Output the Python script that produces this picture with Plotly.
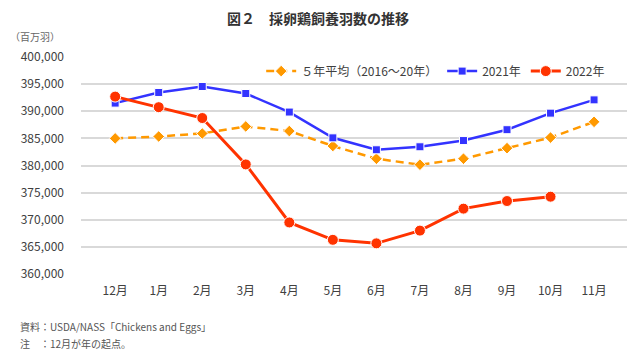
import plotly.graph_objects as go

months = ["12月", "1月", "2月", "3月", "4月", "5月", "6月", "7月", "8月", "9月", "10月", "11月"]
avg_5yr = [385000, 385350, 385900, 387200, 386350, 383600, 381250, 380150, 381250, 383200, 385150, 388050]
y2021 = [391500, 393460, 394560, 393270, 389850, 385100, 382900, 383450, 384600, 386600, 389650, 392100]
y2022 = [392700, 390750, 388750, 380200, 369500, 366300, 365650, 368000, 372050, 373450, 374250]

FONT = "Noto Sans CJK JP"
TXT = "#404040"

fig = go.Figure()
fig.add_trace(go.Scatter(
    x=months, y=avg_5yr, name="５年平均（2016～20年）", mode="lines+markers",
    line=dict(color="#FF9900", width=2.5, dash="8px,5px"),
    marker=dict(symbol="diamond", size=9, color="#FF9900", line=dict(color="white", width=1)),
))
fig.add_trace(go.Scatter(
    x=months, y=y2021, name="2021年", mode="lines+markers",
    line=dict(color="#3333FF", width=2.5),
    marker=dict(symbol="square", size=8, color="#3333FF", line=dict(color="white", width=1)),
))
fig.add_trace(go.Scatter(
    x=months[:len(y2022)], y=y2022, name="2022年", mode="lines+markers",
    line=dict(color="#FF3300", width=3),
    marker=dict(symbol="circle", size=11, color="#FF3300", line=dict(color="white", width=1)),
))

fig.update_layout(
    width=640, height=354,
    margin=dict(l=81, r=13, t=57, b=80),
    paper_bgcolor="white", plot_bgcolor="white",
    font=dict(family=FONT, size=12, color=TXT),
    showlegend=True,
    legend=dict(orientation="h", x=0.33, xanchor="left", y=0.935, yanchor="middle",
                bgcolor="rgba(255,255,255,0)", font=dict(size=12, color=TXT),
                itemwidth=30, tracegroupgap=0),
    xaxis=dict(type="category", showgrid=False, showline=False, zeroline=False,
               ticks="", ticklabelstandoff=8, tickfont=dict(size=12, color=TXT)),
    yaxis=dict(range=[360000, 400000], dtick=5000, tickformat=",d",
               showgrid=True, gridcolor="#D9D9D9", gridwidth=1.5,
               showline=False, zeroline=False, ticks="", ticklabelstandoff=16,
               tickfont=dict(size=12, color=TXT)),
)

def px(x): return (x - 81) / (640 - 81 - 13)
def py(y): return (354 - 80 - y) / (354 - 57 - 80)

fig.add_annotation(text="<b>図２　採卵鶏飼養羽数の推移</b>", x=px(318), y=py(18), xref="paper", yref="paper",
                   xanchor="center", yanchor="middle", showarrow=False,
                   font=dict(size=14, color="#333333", family=FONT))
fig.add_annotation(text="（百万羽）", x=px(8), y=py(37), xref="paper", yref="paper",
                   xanchor="left", yanchor="middle", showarrow=False,
                   font=dict(size=10, color="#666666", family=FONT))
fig.add_annotation(text="資料：USDA/NASS「Chickens and Eggs」", x=px(18), y=py(326), xref="paper", yref="paper",
                   xanchor="left", yanchor="middle", showarrow=False,
                   font=dict(size=10, color="#555555", family=FONT))
fig.add_annotation(text="注　：12月が年の起点。", x=px(18), y=py(343), xref="paper", yref="paper",
                   xanchor="left", yanchor="middle", showarrow=False,
                   font=dict(size=10, color="#555555", family=FONT))

fig.write_html("out.html")
